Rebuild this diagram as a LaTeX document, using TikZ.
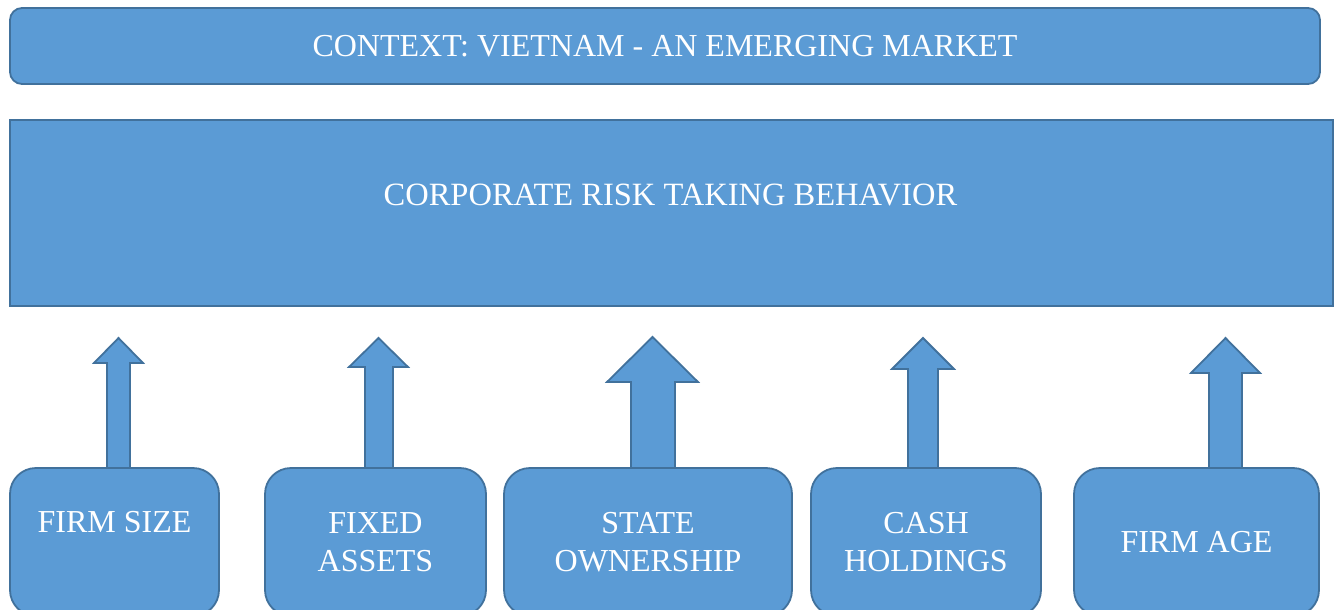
\documentclass[tikz,border=0pt]{standalone}
\usepackage{fontspec}
\setmainfont{Liberation Serif}
\definecolor{boxfill}{HTML}{5B9BD5}
\definecolor{boxline}{HTML}{41719C}
\tikzset{
  base/.style={fill=boxfill, draw=boxline, line width=1.8pt, inner sep=0pt},
  ctxbox/.style={base, rounded corners=12pt},
  bigbox/.style={base},
  factor/.style={base, rounded corners=26pt, text=white, align=center,
    font=\fontsize{32}{38}\selectfont},
  lbl/.style={text=white, font=\fontsize{32}{38}\selectfont, inner sep=0pt},
  blockarrow/.style={fill=boxfill, draw=boxline, line width=1.8pt, line join=miter}
}
\begin{document}
\begin{tikzpicture}[x=1pt,y=-1pt]
\useasboundingbox (0,0) rectangle (1339,610);
\clip (0,0) rectangle (1339,610);
% top context box
\node[ctxbox, minimum width=1310pt, minimum height=76pt, text=white,
  font=\fontsize{32}{38}\selectfont] (ctx) at (665,46) {CONTEXT: VIETNAM - AN EMERGING MARKET};
% main box
\node[bigbox, minimum width=1323pt, minimum height=186pt] (risk) at (671.5,213) {};
\node[lbl, font=\fontsize{32.5}{38}\selectfont] (risktxt) at (670.5,195) {CORPORATE RISK TAKING BEHAVIOR};
% block arrows (drawn first, boxes on top)
\draw[blockarrow] (107,468) -- (107,363) -- (94,363) -- (118.5,338) -- (143,363) -- (130,363) -- (130,468) -- cycle;
\draw[blockarrow] (365,468) -- (365,367) -- (349,367) -- (378.5,338) -- (408,367) -- (393,367) -- (393,468) -- cycle;
\draw[blockarrow] (631,468) -- (631,382) -- (607,382) -- (652.5,337) -- (698,382) -- (675,382) -- (675,468) -- cycle;
\draw[blockarrow] (908,468) -- (908,369) -- (892,369) -- (923,338) -- (954,369) -- (938,369) -- (938,468) -- cycle;
\draw[blockarrow] (1209,468) -- (1209,373) -- (1191,373) -- (1225.5,338) -- (1260,373) -- (1242,373) -- (1242,468) -- cycle;
% factor boxes
\node[factor, minimum width=209pt, minimum height=148pt] (size) at (114.5,542) {};
\node[lbl] (sizetxt) at (114.5,522) {FIRM SIZE};
\node[factor, minimum width=221pt, minimum height=148pt] (fixed) at (375.5,542) {FIXED\\ASSETS};
\node[factor, minimum width=288pt, minimum height=148pt] (state) at (648,542) {STATE\\OWNERSHIP};
\node[factor, minimum width=230pt, minimum height=148pt] (cash) at (926,542) {CASH\\HOLDINGS};
\node[factor, minimum width=245pt, minimum height=148pt] (age) at (1196.5,542) {FIRM AGE};
\end{tikzpicture}
\end{document}
